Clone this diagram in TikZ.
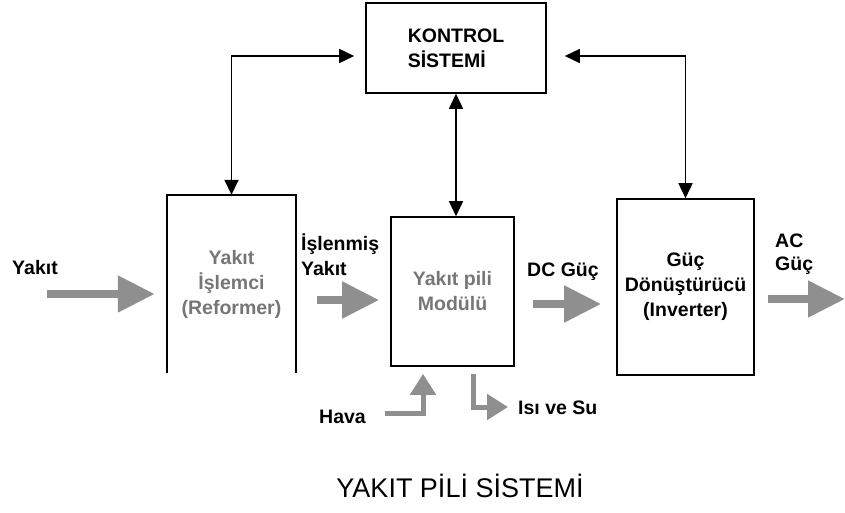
\documentclass[tikz,border=0pt]{standalone}
\usepackage{fontspec}
\setmainfont{Liberation Sans}
\usetikzlibrary{arrows.meta,positioning}

\definecolor{flowgray}{HTML}{8F8F8F}
\definecolor{txtgray}{HTML}{767676}

\begin{document}
\begin{tikzpicture}[x=1pt, y=-1pt,
    >={Triangle[length=15pt,width=14pt]},
    every node/.append style={align=center, inner sep=0pt},
    lbl/.style={font=\bfseries\fontsize{19.5}{25}\selectfont},
    blk/.style={lbl, draw, line width=1.6pt},
    ctl/.style={<->, line width=1.6pt},
    flow/.style={-{Triangle[length=37pt,width=35pt]}, line width=8pt, draw=flowgray},
    side/.style={-{Triangle[length=21pt,width=25pt]}, line width=5pt, draw=flowgray}]
   \useasboundingbox (0,0) rectangle (845,512);

   \node [blk, align=left, minimum width=180pt, minimum height=90pt] (kon) at (456,48) {KONTROL\\SİSTEMİ};
   \node [lbl, text=txtgray, minimum width=129pt, minimum height=178pt] (ref) at (231.5,284) {Yakıt\\İşlemci\\(Reformer)};
   \draw[line width=1.6pt] (ref.south west) -- (ref.north west) -- (ref.north east) -- (ref.south east);
   \node [blk, text=txtgray, minimum width=123pt, minimum height=149pt] (mod) at (452.5,291.5) {Yakıt pili\\Modülü};
   \node [blk, minimum width=137pt, minimum height=176pt] (inv) at (685.5,287) {Güç\\Dönüştürücü\\(Inverter)};

   % labels
   \node [lbl] (yakit) at (35,268) {Yakıt};
   \node [lbl, align=left, anchor=west] (islenmis) at (301,255) {İşlenmiş\\Yakıt};
   \node [lbl, anchor=west] (dcguc) at (527,272) {DC Güç};
   \node [lbl, align=left, anchor=west, font=\bfseries\fontsize{19.5}{23}\selectfont] (acguc) at (775,254) {AC\\Güç};
   \node [lbl, anchor=west] (hava) at (319,417) {Hava};
   \node [lbl, anchor=west] (isi) at (518,408) {Isı ve Su};
   \node [font=\fontsize{27}{30}\selectfont] (title) at (460,486) {YAKIT PİLİ SİSTEMİ};

   % control lines
   \draw[ctl, shorten >=11pt] (ref.north) |- ([yshift=-8pt]kon.west);
   \draw[ctl, shorten >=18pt] (inv.north) |- ([yshift=-8pt]kon.east);
   \draw[ctl] (kon.south) -- (kon.south |- mod.north);

   % energy flow
   \coordinate (fuelin) at (47,294);
   \coordinate (acout) at (845,299);
   \draw[flow, shorten >=12pt] (fuelin) -- (fuelin -| ref.west);
   \draw[flow, shorten <=21pt, shorten >=11pt] (ref.east |- 0,300) -- (mod.west |- 0,300);
   \draw[flow, shorten <=18pt, shorten >=15pt] (mod.east |- 0,304) -- (inv.west |- 0,304);
   \draw[flow, shorten <=13pt] (inv.east |- acout) -- (acout);

   % air in, heat and water out
   \coordinate (air) at (385,413);
   \coordinate (heat) at (508,407);
   \draw[side, shorten >=7pt] (air) -| ([xshift=-29.5pt]mod.south);
   \draw[side, shorten <=7pt] ([xshift=20.5pt]mod.south) |- (heat);
\end{tikzpicture}
\end{document}
